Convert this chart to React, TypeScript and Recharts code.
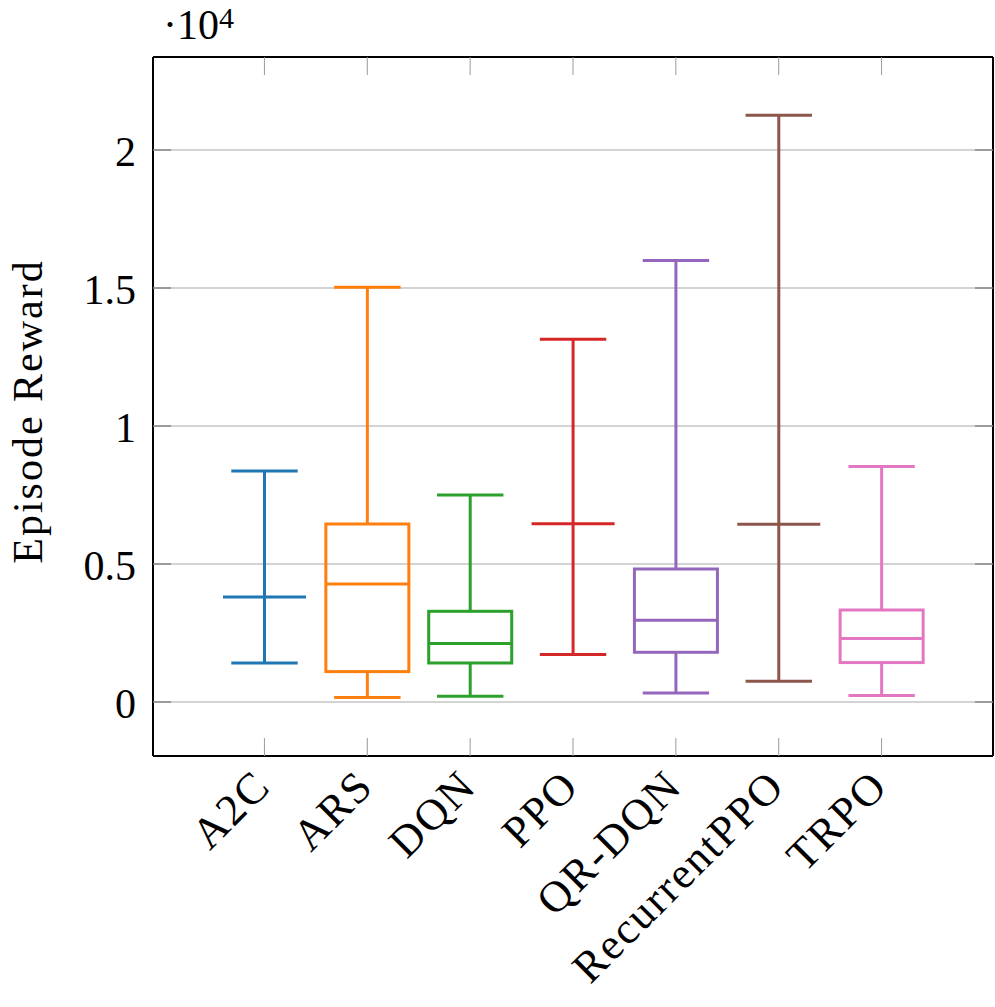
import React from "react";
import { BarChart, Bar, XAxis, YAxis, CartesianGrid } from "recharts";

const algos = ["A2C", "ARS", "DQN", "PPO", "QR-DQN", "RecurrentPPO", "TRPO"];
const lowWhisker = [1413, 159, 207, 1717, 326, 750, 232];
const lowerQuartile = [3804, 1101, 1413, 6457, 1801, 6439, 1428];
const medians = [3804, 4275, 2116, 6457, 2960, 6439, 2297];
const upperQuartile = [3804, 6449, 3286, 6457, 4819, 6439, 3333];
const highWhisker = [8370, 15025, 7500, 13141, 15993, 21257, 8529];
const colors = ["#1f77b4", "#ff7f0e", "#2ca02c", "#d62728", "#9467bd", "#8c564b", "#e377c2"];
const yTicks = [0, 5000, 10000, 15000, 20000];
const yDomain = [-1957, 23370];

const data = algos.map((name, i) => ({
  name,
  low: lowWhisker[i],
  q1: lowerQuartile[i],
  median: medians[i],
  q3: upperQuartile[i],
  high: highWhisker[i],
  range: [lowWhisker[i], highWhisker[i]],
}));

const font = "'Liberation Serif', 'Times New Roman', serif";
const tickGray = "#9a9a9a";

function BoxShape(props: any) {
  const { x, y, width, height, payload } = props;
  const top = Math.min(y, y + height);
  const h = Math.abs(height);
  const span = payload.high - payload.low;
  const py = (v: number) => top + ((payload.high - v) / span) * h;
  const cx = x + width / 2;
  const half = width * 0.4;
  const color = colors[algos.indexOf(payload.name)];
  const yq3 = py(payload.q3);
  const yq1 = py(payload.q1);
  return (
    <g stroke={color} strokeWidth={3} fill="none">
      <line x1={cx} x2={cx} y1={py(payload.high)} y2={yq3} />
      <line x1={cx} x2={cx} y1={yq1} y2={py(payload.low)} />
      <line x1={cx - half} x2={cx + half} y1={py(payload.high)} y2={py(payload.high)} />
      <line x1={cx - half} x2={cx + half} y1={py(payload.low)} y2={py(payload.low)} />
      {yq1 - yq3 > 0.5 && <rect x={x} y={yq3} width={width} height={yq1 - yq3} />}
      <line x1={x} x2={x + width} y1={py(payload.median)} y2={py(payload.median)} />
    </g>
  );
}

function XTick(props: any) {
  const { x, y, payload } = props;
  const ax = x - 2;
  const ay = y + 18 + 22;
  return (
    <text
      x={ax}
      y={ay}
      transform={`rotate(-45 ${ax} ${ay})`}
      textAnchor="end"
      dominantBaseline="central"
      fontFamily={font}
      fontSize={44}
      letterSpacing={2}
      fill="#000"
    >
      {payload.value}
    </text>
  );
}

function YTick(props: any) {
  const { x, y, payload } = props;
  return (
    <text
      x={x - 35}
      y={y + 2}
      textAnchor="end"
      dominantBaseline="central"
      fontFamily={font}
      fontSize={42}
      fill="#000"
    >
      {payload.value === 0 ? "0" : String(payload.value / 10000)}
    </text>
  );
}

function NoTick() {
  return <g />;
}

function YLabel(props: any) {
  const { viewBox } = props;
  const cx = 42;
  const cy = viewBox.y + viewBox.height / 2 + 5;
  return (
    <text
      x={cx}
      y={cy}
      transform={`rotate(-90 ${cx} ${cy})`}
      textAnchor="middle"
      fontFamily={font}
      fontSize={42}
      letterSpacing={2}
      fill="#000"
    >
      Episode Reward
    </text>
  );
}

export default function App() {
  return (
    <div style={{ position: "absolute", left: 0, top: 0, width: 995, height: 1007, background: "#fff" }}>
      <svg style={{ position: "absolute", left: 0, top: 0 }} width={300} height={56}>
        <text x={163} y={39} fontFamily={font} fontSize={42} fill="#000">
          ·10
          <tspan dy={-11} fontSize={30}>
            4
          </tspan>
        </text>
      </svg>
      <BarChart
        width={995}
        height={1007}
        data={data}
        margin={{ top: 56, right: 1, left: 0, bottom: 0 }}
        barSize={83}
      >
        <CartesianGrid horizontal vertical={false} stroke="#c4c4c4" strokeWidth={1.5} />
        <XAxis
          dataKey="name"
          height={251}
          interval={0}
          padding={{ left: 60, right: 60 }}
          tickSize={-18}
          tickMargin={0}
          tickLine={{ stroke: tickGray, strokeWidth: 1 }}
          axisLine={{ stroke: "#000", strokeWidth: 2 }}
          tick={<XTick />}
        />
        <XAxis
          xAxisId="top"
          orientation="top"
          dataKey="name"
          height={1}
          interval={0}
          padding={{ left: 60, right: 60 }}
          tickSize={-18}
          tick={<NoTick />}
          tickLine={{ stroke: tickGray, strokeWidth: 1 }}
          axisLine={{ stroke: "#000", strokeWidth: 2 }}
        />
        <YAxis
          width={153}
          type="number"
          domain={yDomain}
          ticks={yTicks}
          allowDataOverflow
          tickSize={-18}
          tickMargin={0}
          tickLine={{ stroke: "#888", strokeWidth: 1.5 }}
          axisLine={{ stroke: "#000", strokeWidth: 2 }}
          tick={<YTick />}
          label={<YLabel />}
        />
        <YAxis
          yAxisId="right"
          orientation="right"
          width={1}
          type="number"
          domain={yDomain}
          ticks={yTicks}
          allowDataOverflow
          tickSize={-18}
          tick={<NoTick />}
          tickLine={{ stroke: "#888", strokeWidth: 1.5 }}
          axisLine={{ stroke: "#000", strokeWidth: 2 }}
        />
        <Bar dataKey="range" isAnimationActive={false} shape={<BoxShape />} />
      </BarChart>
    </div>
  );
}
